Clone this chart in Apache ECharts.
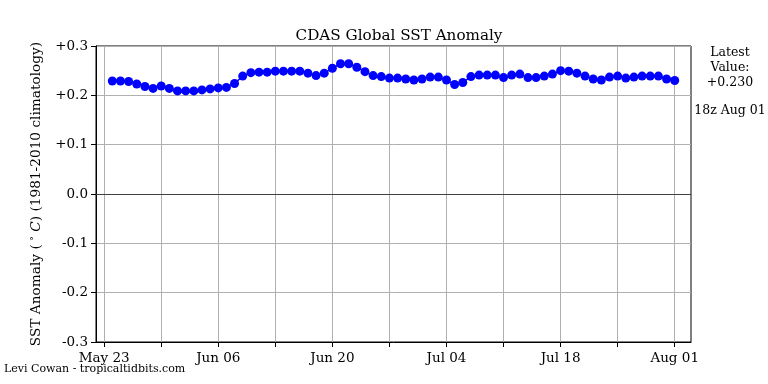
<!DOCTYPE html>
<html>
<head>
<meta charset="utf-8">
<script src="https://cdn.jsdelivr.net/npm/echarts@6/dist/echarts.min.js"></script>
<style>html,body{margin:0;padding:0;background:#fff}#c{width:768px;height:384px}</style>
</head>
<body>
<div id="c"></div>
<script>
// Axis domain: first and last day shown on the x axis
const axisStart = '2024-05-22';
const axisDays = 74;
// Data: first observation date and daily values
const dataStart = '2024-05-24';
const sstAnomaly = [
  0.229, 0.229, 0.228, 0.223, 0.218, 0.214, 0.219, 0.214, 0.209, 0.209,
  0.209, 0.211, 0.213, 0.215, 0.216, 0.224, 0.239, 0.246, 0.247, 0.247,
  0.249, 0.249, 0.249, 0.249, 0.245, 0.240, 0.245, 0.255, 0.264, 0.264,
  0.257, 0.248, 0.240, 0.238, 0.235, 0.235, 0.233, 0.231, 0.233, 0.237,
  0.237, 0.231, 0.222, 0.226, 0.238, 0.241, 0.241, 0.241, 0.236, 0.241,
  0.243, 0.236, 0.236, 0.239, 0.243, 0.250, 0.249, 0.245, 0.239, 0.233,
  0.231, 0.237, 0.239, 0.235, 0.237, 0.239, 0.239, 0.239, 0.233, 0.230
];
const xTickLabels = ['May 23', 'Jun 06', 'Jun 20', 'Jul 04', 'Jul 18', 'Aug 01'];
const yTicks = [-0.3, -0.2, -0.1, 0.0, 0.1, 0.2, 0.3];
const titleText = 'CDAS Global SST Anomaly';
const latestText = 'Latest\nValue:\n+0.230';
const latestTime = '18z Aug 01';
const creditText = 'Levi Cowan - tropicaltidbits.com';

const MONTHS = ['Jan','Feb','Mar','Apr','May','Jun','Jul','Aug','Sep','Oct','Nov','Dec'];
function dayLabel(startIso, offset) {
  const d = new Date(startIso + 'T00:00:00Z');
  d.setUTCDate(d.getUTCDate() + offset);
  return MONTHS[d.getUTCMonth()] + ' ' + String(d.getUTCDate()).padStart(2, '0');
}
const categories = [];
for (let i = 0; i < axisDays; i++) categories.push(dayLabel(axisStart, i));
const dates = sstAnomaly.map((_, i) => dayLabel(dataStart, i));
const seriesData = dates.map((d, i) => [d, sstAnomaly[i]]);

const FONT = 'DejaVu Serif';
const chart = echarts.init(document.getElementById('c'));
chart.setOption({
  animation: false,
  backgroundColor: '#fff',
  textStyle: { fontFamily: FONT, color: '#000' },
  title: {
    text: titleText, left: 394, top: 24, textAlign: 'center',
    textStyle: { fontFamily: FONT, fontSize: 15.2, fontWeight: 'normal', color: '#000' }
  },
  grid: { left: 96, right: 77, top: 46, bottom: 42, show: true, borderColor: '#000', borderWidth: 1, backgroundColor: 'transparent' },
  xAxis: {
    type: 'category', data: categories, boundaryGap: false,
    axisLine: { onZero: false, lineStyle: { color: '#000', width: 1 } },
    axisTick: { inside: false, length: 5, lineStyle: { color: '#000' },
      interval: (idx, val) => xTickLabels.indexOf(val) >= 0 || (idx - 1) % 7 === 0 },
    axisLabel: { interval: (idx, val) => xTickLabels.indexOf(val) >= 0,
      fontFamily: FONT, fontSize: 13.5, color: '#000', margin: 9 },
    splitLine: { show: true, interval: (idx) => (idx - 1) % 7 === 0, lineStyle: { color: '#b0b0b0', width: 1 } }
  },
  yAxis: {
    type: 'value', min: yTicks[0], max: yTicks[yTicks.length - 1], interval: 0.1,
    name: '{a|SST Anomaly (}{s| °}{i| C}{a|) (1981-2010 climatology)}',
    nameLocation: 'middle', nameGap: 53, nameRotate: 90,
    nameTextStyle: { rich: {
      a: { fontFamily: FONT, fontSize: 13.7, color: '#000' },
      s: { fontFamily: FONT, fontSize: 10, color: '#000', verticalAlign: 'top' },
      i: { fontFamily: FONT, fontSize: 13.7, fontStyle: 'italic', color: '#000' }
    } },
    axisLine: { show: true, lineStyle: { color: '#000' } },
    axisTick: { show: true, length: 5, lineStyle: { color: '#000' } },
    axisLabel: { fontFamily: FONT, fontSize: 13.5, color: '#000', margin: 8,
      formatter: v => Math.abs(v) < 1e-9 ? '0.0' : (v > 0 ? '+' : '') + v.toFixed(1) },
    splitLine: { show: true, lineStyle: { color: '#b0b0b0', width: 1 } }
  },
  series: [{
    type: 'line', data: seriesData, symbol: 'circle', symbolSize: 9, showAllSymbol: true,
    itemStyle: { color: '#0000ff' }, lineStyle: { color: '#0000ff', width: 1.5 },
    markLine: { silent: true, symbol: 'none', label: { show: false },
      lineStyle: { color: '#404040', width: 1.2, type: 'solid' }, data: [{ yAxis: 0 }] },
    z: 5
  }],
  graphic: [
    { type: 'text', x: 730, y: 45, style: { text: latestText, textAlign: 'center',
      font: '12.5px "DejaVu Serif"', fill: '#000', lineHeight: 15 } },
    { type: 'text', x: 730, y: 104, style: { text: latestTime, textAlign: 'center',
      font: '12.5px "DejaVu Serif"', fill: '#000' } },
    { type: 'text', x: 4, y: 364, style: { text: creditText,
      font: '11px "DejaVu Serif"', fill: '#000' } }
  ]
});
</script>
</body>
</html>
